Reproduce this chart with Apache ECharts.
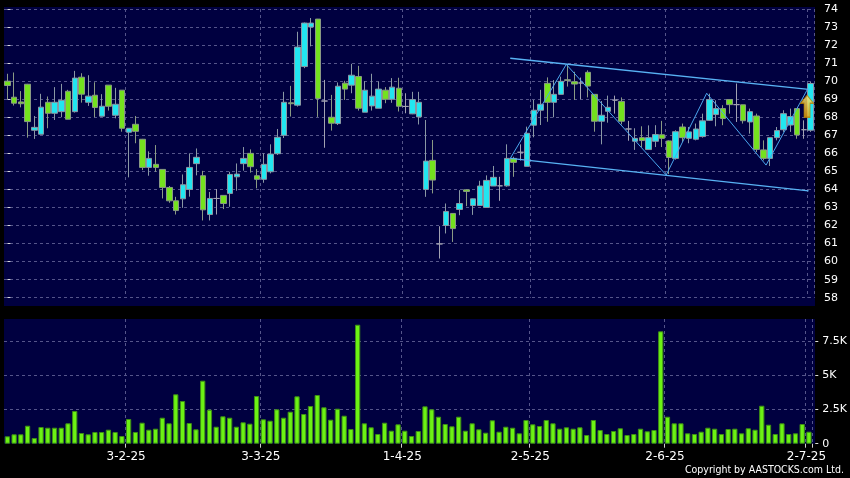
<!DOCTYPE html>
<html>
<head>
<meta charset="utf-8">
<script src="https://cdn.jsdelivr.net/npm/echarts@6.0.0/dist/echarts.min.js"></script>
<style>
html,body{margin:0;padding:0;background:#000;}
#c{width:850px;height:478px;}
</style>
</head>
<body>
<div id="c"></div>
<script>
// ---- data ----
const dates = [
 '2025-01-03','2025-01-06','2025-01-07','2025-01-08','2025-01-09','2025-01-10','2025-01-13','2025-01-14','2025-01-15','2025-01-16',
 '2025-01-17','2025-01-20','2025-01-21','2025-01-22','2025-01-23','2025-01-24','2025-01-27','2025-01-28',
 '2025-02-03','2025-02-04','2025-02-05','2025-02-06','2025-02-07','2025-02-10','2025-02-11','2025-02-12','2025-02-13','2025-02-14',
 '2025-02-17','2025-02-18','2025-02-19','2025-02-20','2025-02-21','2025-02-24','2025-02-25','2025-02-26','2025-02-27','2025-02-28',
 '2025-03-03','2025-03-04','2025-03-05','2025-03-06','2025-03-07','2025-03-10','2025-03-11','2025-03-12','2025-03-13','2025-03-14',
 '2025-03-17','2025-03-18','2025-03-19','2025-03-20','2025-03-21','2025-03-24','2025-03-25','2025-03-26','2025-03-27','2025-03-28','2025-03-31',
 '2025-04-01','2025-04-02','2025-04-03','2025-04-07','2025-04-08','2025-04-09','2025-04-10','2025-04-11','2025-04-14','2025-04-15',
 '2025-04-16','2025-04-17','2025-04-22','2025-04-23','2025-04-24','2025-04-25','2025-04-28','2025-04-29','2025-04-30',
 '2025-05-02','2025-05-06','2025-05-07','2025-05-08','2025-05-09','2025-05-12','2025-05-13','2025-05-14','2025-05-15','2025-05-16',
 '2025-05-19','2025-05-20','2025-05-21','2025-05-22','2025-05-23','2025-05-26','2025-05-27','2025-05-28','2025-05-29','2025-05-30',
 '2025-06-02','2025-06-03','2025-06-04','2025-06-05','2025-06-06','2025-06-09','2025-06-10','2025-06-11','2025-06-12','2025-06-13',
 '2025-06-16','2025-06-17','2025-06-18','2025-06-19','2025-06-20','2025-06-23','2025-06-24','2025-06-25','2025-06-26','2025-06-27','2025-06-30',
 '2025-07-02'
];
const opens = [
 70.0,69.11,68.85,69.83,67.28,67.06,68.83,68.22,68.31,69.44,
 68.31,70.22,68.83,69.22,68.06,69.78,68.11,69.5,67.17,67.61,
 66.78,65.22,65.39,65.11,64.11,63.37,63.48,64.0,65.43,64.76,
 62.61,63.5,63.67,63.78,64.7,65.43,66.0,64.76,64.56,64.98,
 65.98,67.0,68.8,68.67,70.81,73.0,73.44,68.9,68.0,67.65,
 69.89,69.78,70.26,68.28,68.63,68.5,69.5,69.0,69.61,68.6,
 68.19,68.02,64.0,65.61,60.98,62.0,62.67,62.89,63.98,63.11,
 63.11,63.0,64.19,64.2,64.2,65.72,66.06,65.28,67.56,68.39,
 69.88,68.83,69.27,70.08,69.97,69.9,70.49,69.27,67.78,68.33,
 68.95,68.88,67.35,66.67,66.87,66.21,66.67,67.03,66.69,65.72,
 67.46,66.83,66.78,66.93,67.83,68.15,68.48,68.98,68.7,68.69,
 67.74,68.07,66.19,65.72,66.87,67.31,67.57,68.48,67.31,67.28
];
const closes = [
 69.76,68.78,68.75,67.76,67.44,68.56,68.22,68.83,68.94,67.89,
 70.17,69.28,69.17,68.54,68.61,68.61,68.72,67.39,67.39,67.22,
 65.22,65.72,65.22,64.11,63.37,62.83,64.26,65.22,65.78,62.87,
 63.5,63.5,63.22,64.83,64.85,65.72,65.26,64.56,65.39,65.96,
 66.89,68.83,68.75,71.89,73.22,73.22,69.04,68.9,67.67,69.72,
 69.56,70.33,68.5,69.5,69.17,69.56,69.0,69.67,68.61,68.6,
 68.98,68.83,65.57,64.52,60.98,62.78,61.83,63.22,63.89,63.48,
 64.19,64.5,64.67,64.2,65.72,65.5,66.06,67.11,68.39,68.72,
 68.83,69.27,69.99,70.04,69.84,69.9,69.73,67.78,68.11,68.55,
 68.95,67.78,67.35,66.83,66.71,66.87,67.04,66.83,65.77,67.2,
 66.87,67.19,67.35,67.8,68.98,68.48,67.93,68.7,68.7,67.81,
 68.31,66.22,65.72,66.87,67.26,68.2,68.04,67.02,67.31,69.87
];
const lows = [
 69.0,68.65,68.55,66.87,66.8,67.06,67.39,67.85,68.0,67.89,
 68.26,68.81,68.63,68.0,68.04,68.37,67.94,67.2,64.67,66.56,
 65.07,64.76,64.98,63.5,63.26,62.61,62.98,63.6,64.78,62.28,
 62.28,62.61,62.91,63.04,63.93,65.04,64.93,64.06,64.37,64.89,
 65.91,66.85,68.04,68.59,70.72,71.93,68.02,66.31,67.26,67.57,
 68.96,69.33,68.37,68.28,68.37,68.5,68.78,68.8,68.32,68.22,
 68.17,67.6,63.59,63.78,60.17,61.56,61.09,62.57,63.07,62.59,
 63.11,63.0,64.19,63.37,64.15,64.7,65.6,65.28,66.89,67.57,
 67.75,68.0,69.27,69.7,68.96,69.0,69.1,67.2,66.5,67.7,
 68.2,67.6,66.7,66.19,66.35,66.21,66.35,66.35,64.85,65.65,
 66.63,66.56,66.72,66.87,67.8,67.5,67.56,68.2,67.74,67.65,
 67.09,66.07,65.61,65.3,66.72,67.19,67.19,66.81,66.81,67.19
];
const highs = [
 70.41,70.48,69.45,69.85,68.07,69.3,69.15,69.67,69.85,69.52,
 70.57,70.44,70.33,69.94,69.28,69.78,69.63,69.5,67.39,68.07,
 66.8,66.11,66.46,65.11,64.19,63.59,64.83,66.0,66.27,65.03,
 63.86,64.02,63.67,64.98,65.44,66.35,66.22,65.13,66.0,66.5,
 67.35,69.41,69.74,72.74,73.25,73.5,73.45,70.07,69.24,69.93,
 70.02,70.96,70.85,70.0,70.41,69.98,69.67,70.17,70.19,69.33,
 69.41,69.41,67.85,66.74,61.96,63.22,62.67,63.96,64.0,63.5,
 64.48,64.78,65.3,64.7,66.5,65.81,66.5,67.48,68.96,69.52,
 70.21,70.06,70.25,70.93,70.52,70.2,70.6,69.27,68.9,69.2,
 69.2,69.1,67.8,67.39,67.5,67.55,67.56,67.8,66.72,67.28,
 67.65,67.46,67.65,68.2,69.31,68.94,68.67,68.98,69.87,68.69,
 68.48,68.2,66.72,66.87,67.46,68.39,68.48,68.48,67.83,69.96
];
const volumes = [
 539,685,685,1312,416,1217,1166,1166,1166,1487,
 2384,780,685,853,853,1021,853,561,1800,853,
 1531,1021,1094,1895,1487,3601,3113,1509,1050,4593,
 2479,1239,1997,1895,1239,1560,1458,3477,1779,1677,
 2508,1895,2333,3455,2165,2748,3550,2654,1750,2552,
 2041,1072,8675,1487,1196,707,1531,948,1414,948,
 561,926,2725,2508,1968,1436,1268,1968,948,1487,
 1050,802,1706,875,1239,1166,758,1728,1414,1290,
 1728,1487,1094,1196,1094,1196,634,1728,999,707,
 926,1123,634,707,1094,904,999,8194,1968,1487,
 1487,758,707,875,1166,1094,707,1072,1094,758,
 1123,1021,2770,1385,707,1487,707,758,1436,875
];
const labelDates = ['2025-02-03','2025-03-03','2025-04-01','2025-05-02','2025-06-02','2025-07-02'];
const priceMin = 58, priceMax = 74, priceStep = 1;
const volumeMax = 9091, volumeStep = 2500;
// drawn annotations, in (trading-day index, price)
const zigzag = [[74.5,65.72],[82.8,70.93],[97.6,64.8],[103.6,69.33],[112.4,65.35],[118.6,69.6]];
const channelUpper = [[74.5,71.27],[118.7,69.54]];
const channelLower = [[74.5,65.72],[118.7,63.92]];
const signalArrow = [[118.47,68.61]];
const copyright = 'Copyright by AASTOCKS.com Ltd.';

// ---- chart ----
const FONT = '"DejaVu Sans", Verdana, sans-serif';
const candleData = dates.map((d, i) => [opens[i], closes[i], lows[i], highs[i]]);
const isLabelDay = (idx, val) => labelDates.indexOf(val) >= 0;
const fmtDate = v => { const p = v.split('-'); return (+p[2]) + '-' + (+p[1]) + '-' + p[0].slice(2); };
const gridLineStyle = {color: '#55558a', type: [3, 3], width: 1};

const chart = echarts.init(document.getElementById('c'), null, {renderer: 'canvas', width: 850, height: 478});
chart.setOption({
  backgroundColor: '#000',
  animation: false,
  graphic: [
    {type: 'rect', z: -10, silent: true, shape: {x: 4, y: 7, width: 811, height: 299}, style: {fill: '#000040'}},
    {type: 'rect', z: -10, silent: true, shape: {x: 4, y: 319, width: 811, height: 124.7}, style: {fill: '#000040'}},
    {type: 'text', right: 6, top: 465, silent: true,
     style: {text: copyright, fill: '#fff', font: '10.5px "DejaVu Sans Condensed", "DejaVu Sans", sans-serif'}}
  ],
  grid: [
    {left: 4, width: 810, top: 9, height: 288.7},
    {left: 4, width: 810, top: 319, height: 124.7}
  ],
  xAxis: [
    {type: 'category', gridIndex: 0, data: dates, boundaryGap: true,
     axisLine: {show: false}, axisTick: {show: false}, axisLabel: {show: false},
     splitLine: {show: true, interval: isLabelDay, lineStyle: gridLineStyle}},
    {type: 'category', gridIndex: 1, data: dates, boundaryGap: true, offset: 2,
     axisLine: {show: false},
     axisTick: {show: true, length: 4, interval: isLabelDay, lineStyle: {color: '#cfcfcf'}},
     axisLabel: {show: true, interval: isLabelDay, margin: 5,
       formatter: v => '{d|' + fmtDate(v) + '}',
       rich: {d: {color: '#fff', fontSize: 12, fontFamily: FONT, padding: [0, 5, 0, 0]}}},
     splitLine: {show: true, interval: isLabelDay, lineStyle: gridLineStyle}},
    {type: 'value', gridIndex: 0, min: -0.5, max: dates.length - 0.5, show: false}
  ],
  yAxis: [
    {type: 'value', gridIndex: 0, position: 'right', min: priceMin, max: priceMax, interval: priceStep, offset: 3,
     axisLine: {show: false}, axisTick: {show: true, length: 3, lineStyle: {color: '#dddddd'}},
     axisLabel: {color: '#fff', fontSize: 11, fontFamily: FONT, margin: 7},
     splitLine: {show: true, lineStyle: gridLineStyle}},
    {type: 'value', gridIndex: 1, position: 'right', min: 0, max: volumeMax, interval: volumeStep, offset: 3,
     axisLine: {show: false}, axisTick: {show: true, length: 3, lineStyle: {color: '#dddddd'}},
     axisLabel: {color: '#fff', fontSize: 11, fontFamily: FONT, margin: 7, showMaxLabel: false,
       formatter: v => v === 0 ? '0' : (v / 1000) + 'K'},
     splitLine: {show: true, showMaxLine: false, showMinLine: false, lineStyle: gridLineStyle}}
  ],
  series: [
    {type: 'candlestick', xAxisIndex: 0, yAxisIndex: 0, data: candleData, barWidth: '86%',
     itemStyle: {color: '#22e6f0', color0: '#74e21e', borderColor: '#8a98a4', borderColor0: '#8a9a84',
                 borderColorDoji: '#a2a2b2', borderWidth: 1}},
    {type: 'bar', xAxisIndex: 1, yAxisIndex: 1, data: volumes, barWidth: '78%',
     itemStyle: {color: '#6cf214', borderColor: '#3e8e16', borderWidth: 1}},
    {type: 'line', xAxisIndex: 2, yAxisIndex: 0, data: zigzag, symbol: 'none', silent: true,
     lineStyle: {color: '#4aa6ee', width: 1}},
    {type: 'line', xAxisIndex: 2, yAxisIndex: 0, data: channelUpper, symbol: 'none', silent: true,
     lineStyle: {color: '#58b2f4', width: 1.3}},
    {type: 'line', xAxisIndex: 2, yAxisIndex: 0, data: channelLower, symbol: 'none', silent: true,
     lineStyle: {color: '#58b2f4', width: 1.3}},
    {type: 'scatter', xAxisIndex: 2, yAxisIndex: 0, data: signalArrow, silent: true, z: 5,
     symbol: 'path://M6.5,0 L13,8 L9.5,8 L9.5,22 L3.5,22 L3.5,8 L0,8 Z', symbolSize: [13, 22],
     itemStyle: {color: {type: 'linear', x: 0, y: 0, x2: 0, y2: 1,
       colorStops: [{offset: 0, color: '#fff27a'}, {offset: 1, color: '#eaa200'}]},
       borderColor: '#b88000', borderWidth: 1}}
  ]
});
</script>
</body>
</html>
